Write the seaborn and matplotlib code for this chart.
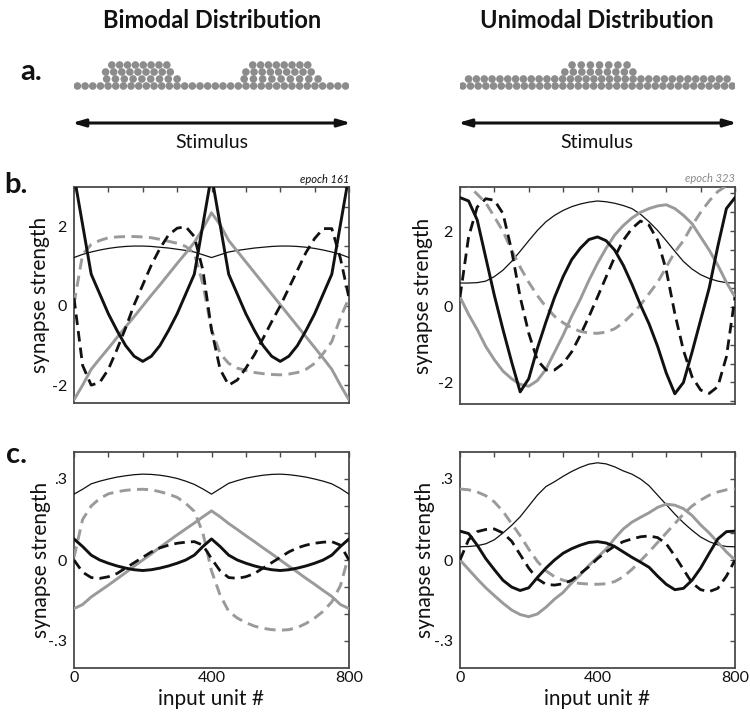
import numpy as np
import pandas as pd
import matplotlib
matplotlib.use("Agg")
import matplotlib.pyplot as plt
import seaborn as sns

sns.set_style("white")
plt.rcParams['font.family'] = ['Lato', 'DejaVu Sans']

# ---------------- data ----------------
x_units = np.arange(0, 801, 25)

# panel b, bimodal (epoch 161)
b_bi_thin = [1.22, 1.3, 1.36, 1.41, 1.45, 1.48, 1.5, 1.51, 1.51, 1.5, 1.48, 1.46, 1.43, 1.4, 1.36, 1.29, 1.22,
             1.29, 1.36, 1.4, 1.43, 1.46, 1.48, 1.5, 1.51, 1.51, 1.5, 1.48, 1.45, 1.41, 1.36, 1.3, 1.22]
b_bi_thick = [3.3, 2.05, 0.8, 0.3, -0.2, -0.62, -1.0, -1.27, -1.4, -1.27, -1.0, -0.62, -0.2, 0.3, 0.8, 2.05, 3.3,
              2.05, 0.8, 0.3, -0.2, -0.62, -1.0, -1.27, -1.4, -1.27, -1.0, -0.62, -0.2, 0.3, 0.8, 2.05, 3.3]
b_bi_dash = [0.2, -1.5, -2.0, -1.93, -1.6, -1.1, -0.56, 0.03, 0.53, 1.03, 1.45, 1.79, 1.96, 2.0, 1.75, 0.9, -0.6,
             -1.6, -2.0, -1.87, -1.57, -1.23, -0.82, -0.4, 0.0, 0.45, 0.9, 1.35, 1.7, 1.95, 1.95, 1.2, 0.2]
b_bi_grey = [-2.37, -2.0, -1.6, -1.33, -1.07, -0.8, -0.53, -0.27, 0.0, 0.27, 0.53, 0.8, 1.07, 1.33, 1.6, 1.95, 2.35,
             2.05, 1.65, 1.38, 1.11, 0.84, 0.57, 0.3, 0.03, -0.24, -0.51, -0.78, -1.05, -1.32, -1.6, -2.0, -2.37]
b_bi_gdash = [0.05, 1.3, 1.55, 1.65, 1.72, 1.74, 1.75, 1.75, 1.74, 1.72, 1.68, 1.63, 1.58, 1.5, 1.33, 0.55, -0.6,
              -1.2, -1.45, -1.57, -1.63, -1.68, -1.71, -1.73, -1.74, -1.72, -1.68, -1.6, -1.45, -1.2, -0.9, -0.3, 0.2]

# panel b, unimodal (epoch 323)
b_uni_thin = [0.63, 0.63, 0.64, 0.68, 0.8, 0.97, 1.2, 1.47, 1.75, 2.02, 2.25, 2.42, 2.55, 2.65, 2.72, 2.77, 2.8,
              2.78, 2.74, 2.68, 2.6, 2.45, 2.25, 2.02, 1.75, 1.47, 1.2, 1.0, 0.85, 0.75, 0.68, 0.64, 0.63]
b_uni_thick = [2.89, 2.8, 2.3, 1.3, 0.3, -0.6, -1.45, -2.25, -1.9, -1.1, -0.4, 0.25, 0.8, 1.25, 1.55, 1.78, 1.85,
               1.75, 1.5, 1.1, 0.6, 0.05, -0.45, -1.05, -1.75, -2.3, -2.0, -1.2, -0.35, 0.5, 1.6, 2.6, 2.89]
b_uni_dash = [0.26, 1.85, 2.64, 2.86, 2.82, 2.47, 1.5, 0.26, -0.7, -1.41, -1.67, -1.67, -1.5, -1.19, -0.75, -0.26, 0.26,
              0.79, 1.32, 1.76, 2.07, 2.27, 2.16, 1.76, 0.97, -0.18, -1.15, -1.85, -2.2, -2.29, -2.11, -1.32, 0.26]
b_uni_grey = [0.26, -0.2, -0.6, -1.05, -1.4, -1.7, -1.9, -2.05, -2.1, -1.95, -1.65, -1.2, -0.75, -0.25, 0.2, 0.7, 1.15,
              1.55, 1.9, 2.15, 2.35, 2.5, 2.6, 2.67, 2.7, 2.6, 2.42, 2.2, 1.85, 1.5, 1.1, 0.65, 0.26]
b_uni_gdash = [3.3, 3.2, 2.98, 2.75, 2.38, 2.0, 1.5, 1.05, 0.65, 0.3, 0.0, -0.25, -0.42, -0.56, -0.65, -0.69, -0.7,
               -0.67, -0.58, -0.42, -0.2, 0.05, 0.35, 0.65, 1.05, 1.45, 1.75, 2.15, 2.5, 2.8, 3.05, 3.2, 3.3]

# panel c, bimodal
c_bi_thin = [0.244, 0.262, 0.282, 0.292, 0.3, 0.307, 0.312, 0.316, 0.318, 0.317, 0.314, 0.309, 0.302, 0.292, 0.28, 0.263, 0.244,
             0.264, 0.284, 0.294, 0.303, 0.309, 0.314, 0.317, 0.318, 0.316, 0.312, 0.307, 0.3, 0.292, 0.282, 0.265, 0.244]
c_bi_thick = [0.078, 0.05, 0.018, 0.0, -0.012, -0.022, -0.03, -0.036, -0.039, -0.036, -0.03, -0.022, -0.012, 0.0, 0.018, 0.05, 0.078,
              0.05, 0.018, 0.0, -0.012, -0.022, -0.03, -0.036, -0.039, -0.036, -0.03, -0.022, -0.012, 0.0, 0.018, 0.05, 0.078]
c_bi_dash = [0.0, -0.045, -0.065, -0.068, -0.062, -0.05, -0.03, -0.01, 0.01, 0.03, 0.045, 0.055, 0.062, 0.066, 0.068, 0.055, 0.005,
             -0.04, -0.065, -0.068, -0.062, -0.05, -0.03, -0.01, 0.01, 0.03, 0.045, 0.055, 0.062, 0.066, 0.068, 0.055, 0.0]
c_bi_grey = [-0.18, -0.165, -0.137, -0.115, -0.093, -0.07, -0.047, -0.023, 0.0, 0.023, 0.047, 0.07, 0.093, 0.115, 0.137, 0.16, 0.182,
             0.16, 0.135, 0.113, 0.09, 0.068, 0.045, 0.023, 0.0, -0.023, -0.045, -0.068, -0.09, -0.113, -0.135, -0.165, -0.18]
c_bi_gdash = [0.01, 0.15, 0.2, 0.228, 0.245, 0.253, 0.258, 0.261, 0.262, 0.26, 0.253, 0.244, 0.232, 0.21, 0.18, 0.1, -0.04,
              -0.13, -0.19, -0.215, -0.232, -0.245, -0.253, -0.258, -0.26, -0.258, -0.25, -0.235, -0.215, -0.19, -0.155, -0.095, 0.02]

# panel c, unimodal
c_uni_thin = [0.049, 0.05, 0.053, 0.06, 0.075, 0.1, 0.128, 0.16, 0.2, 0.24, 0.272, 0.29, 0.31, 0.328, 0.343, 0.355, 0.36,
              0.356, 0.345, 0.33, 0.318, 0.3, 0.275, 0.24, 0.205, 0.17, 0.138, 0.11, 0.085, 0.068, 0.056, 0.05, 0.049]
c_uni_thick = [0.107, 0.098, 0.055, 0.005, -0.036, -0.075, -0.1, -0.113, -0.103, -0.065, -0.03, 0.0, 0.025, 0.042, 0.055, 0.065, 0.068,
               0.063, 0.05, 0.03, 0.01, -0.008, -0.027, -0.06, -0.09, -0.11, -0.105, -0.075, -0.03, 0.025, 0.078, 0.105, 0.107]
c_uni_dash = [0.0, 0.075, 0.105, 0.113, 0.115, 0.1, 0.07, 0.02, -0.03, -0.07, -0.09, -0.093, -0.088, -0.075, -0.05, -0.025, 0.005,
              0.03, 0.052, 0.068, 0.078, 0.086, 0.089, 0.083, 0.06, 0.015, -0.035, -0.085, -0.11, -0.117, -0.105, -0.06, 0.0]
c_uni_grey = [0.0, -0.035, -0.07, -0.103, -0.132, -0.16, -0.185, -0.202, -0.21, -0.2, -0.175, -0.145, -0.12, -0.085, -0.055, -0.02, 0.01,
              0.04, 0.08, 0.115, 0.14, 0.158, 0.175, 0.195, 0.207, 0.203, 0.19, 0.165, 0.13, 0.1, 0.065, 0.03, 0.0]
c_uni_gdash = [0.263, 0.26, 0.252, 0.238, 0.215, 0.18, 0.135, 0.09, 0.04, -0.005, -0.04, -0.062, -0.075, -0.083, -0.087, -0.089, -0.09,
               -0.088, -0.08, -0.062, -0.035, -0.003, 0.03, 0.065, 0.1, 0.135, 0.17, 0.2, 0.222, 0.24, 0.252, 0.26, 0.263]

# panel a: stimulus sample dots (row index, start, end, count in stimulus units)
bi_seg_row = [0, 1, 1, 2, 2, 3, 3]
bi_seg_start = [10, 95, 495, 92, 500, 110, 520]
bi_seg_end = [790, 300, 710, 280, 690, 270, 680]
bi_seg_n = [36, 9, 9, 9, 9, 8, 8]

uni_seg_row = [0, 1, 2, 3]
uni_seg_start = [8, 25, 305, 326]
uni_seg_end = [792, 777, 503, 486]
uni_seg_n = [36, 34, 9, 7]

titles = ["Bimodal Distribution", "Unimodal Distribution"]
epochs = ["epoch 161", "epoch 323"]

# ---------------- layout ----------------
W, H = 750, 713
fig = plt.figure(figsize=(W / 100, H / 100), dpi=100)


def px_axes(x0, y0, x1, y1):
    return fig.add_axes([x0 / W, 1 - y1 / H, (x1 - x0) / W, (y1 - y0) / H])


BLACK = "#111111"
GREY = "#9a9a9a"
SPINE = "#4a4a4a"
DASH = (0, (3.8, 2.2))

styles = [  # color, lw, linestyle, zorder
    (BLACK, 0.9, "-", 3),
    (GREY, 2.1, "-", 4),
    (GREY, 2.1, DASH, 4),
    (BLACK, 2.0, DASH, 5),
    (BLACK, 2.1, "-", 6),
]


def draw_curves(ax, curves):
    for vals, (c, lw, ls, z) in zip(curves, styles):
        df = pd.DataFrame({"unit": x_units, "w": vals})
        sns.lineplot(data=df, x="unit", y="w", ax=ax, color=c, linewidth=lw,
                     linestyle=ls, legend=False, zorder=z)


def style_axes(ax, ylim, yticks, ylabels, label_x, ypad, show_x):
    ax.set_xlim(0, 800)
    ax.set_ylim(*ylim)
    ax.set_xticks(np.arange(0, 801, 100))
    ax.set_xticklabels(["0", "", "", "", "400", "", "", "", "800"] if show_x else [])
    ax.set_yticks(yticks)
    ax.set_yticklabels(ylabels)
    ax.tick_params(direction="in", length=3.5, width=1, color=SPINE,
                   top=True, right=True, labelsize=11.5, colors=BLACK)
    ax.tick_params(axis="y", pad=ypad)
    ax.tick_params(axis="x", pad=2)
    for s in ax.spines.values():
        s.set_color(SPINE)
        s.set_linewidth(1.3)
    ax.set_ylabel("synapse strength", fontsize=15, color=BLACK)
    ax.yaxis.set_label_coords(label_x, 0.5)
    if show_x:
        ax.set_xlabel("input unit #", fontsize=15, color=BLACK)
        ax.xaxis.set_label_coords(0.5, -0.097)
    else:
        ax.set_xlabel("")


def b_ticklabels(ticks):
    return ["%d" % round(t) if abs(t - round(t)) < 1e-9 and int(round(t)) in (-2, 0, 2) else "" for t in ticks]


def c_ticklabels(ticks):
    out = []
    for t in ticks:
        if abs(t - 0.3) < 1e-9:
            out.append(".3")
        elif abs(t + 0.3) < 1e-9:
            out.append("-.3")
        elif abs(t) < 1e-9:
            out.append("0")
        else:
            out.append("")
    return out


# panel b axes
bt_left = np.arange(-2.0, 3.01, 0.5)
bt_right = np.arange(-2.5, 3.01, 0.5)
ax_b1 = px_axes(74, 187, 349, 403)
draw_curves(ax_b1, [b_bi_thin, b_bi_grey, b_bi_gdash, b_bi_dash, b_bi_thick])
style_axes(ax_b1, (-2.45, 3.0), bt_left, b_ticklabels(bt_left), -0.087, 5, False)

ax_b2 = px_axes(460, 187, 735, 404)
draw_curves(ax_b2, [b_uni_thin, b_uni_grey, b_uni_gdash, b_uni_dash, b_uni_thick])
style_axes(ax_b2, (-2.57, 3.17), bt_right, b_ticklabels(bt_right), -0.097, 5, False)

ct = np.round(np.arange(-0.3, 0.31, 0.1), 2)
ax_c1 = px_axes(74, 452, 349, 668)
draw_curves(ax_c1, [c_bi_thin, c_bi_grey, c_bi_gdash, c_bi_dash, c_bi_thick])
style_axes(ax_c1, (-0.4, 0.4), ct, c_ticklabels(ct), -0.085, 5, True)

ax_c2 = px_axes(460, 452, 735, 668)
draw_curves(ax_c2, [c_uni_thin, c_uni_grey, c_uni_gdash, c_uni_dash, c_uni_thick])
style_axes(ax_c2, (-0.4, 0.4), ct, c_ticklabels(ct), -0.092, 5, True)

# epoch labels
ax_b1.text(1.0, 1.01, epochs[0], transform=ax_b1.transAxes, ha="right", va="bottom",
           fontsize=8, style="italic", color=BLACK)
ax_b2.text(1.0, 1.015, epochs[1], transform=ax_b2.transAxes, ha="right", va="bottom",
           fontsize=8, style="italic", color="#8a8a8a")

# panel a
DOT = "#8c8c8c"


def draw_dots(x0, x1, rows, starts, ends, ns):
    ax = px_axes(x0, 55, x1, 132)
    xs, ys = [], []
    for r, s, e, n in zip(rows, starts, ends, ns):
        pos = np.linspace(s, e, n)
        xs.extend(pos)
        ys.extend([86 - 7 * r] * n)
    df = pd.DataFrame({"unit": xs, "row": ys})
    sns.scatterplot(data=df, x="unit", y="row", ax=ax, color=DOT, s=30,
                    edgecolor="none", legend=False)
    ax.set_xlim(0, 800)
    ax.set_ylim(132, 55)
    ax.annotate("", xy=(-6, 123), xytext=(806, 123), annotation_clip=False,
                arrowprops=dict(arrowstyle="<|-|>,head_length=0.75,head_width=0.22",
                                color=BLACK, lw=2.2, shrinkA=0, shrinkB=0))
    ax.axis("off")
    return ax


draw_dots(74, 349, bi_seg_row, bi_seg_start, bi_seg_end, bi_seg_n)
draw_dots(460, 735, uni_seg_row, uni_seg_start, uni_seg_end, uni_seg_n)

for cx, t in zip([212, 597], titles):
    fig.text(cx / W, 1 - 20 / H, t, ha="center", va="center", fontsize=17,
             fontweight="bold", color=BLACK)
    fig.text(cx / W, 1 - 143 / H, "Stimulus", ha="center", va="center",
             fontsize=14, color=BLACK)

for lx, ly, t in [(20, 80, "a."), (4, 193, "b."), (6, 463, "c.")]:
    fig.text(lx / W, 1 - ly / H, t, ha="left", va="baseline", fontsize=21,
             fontweight="bold", color=BLACK)

fig.savefig("out.png", dpi=100)
